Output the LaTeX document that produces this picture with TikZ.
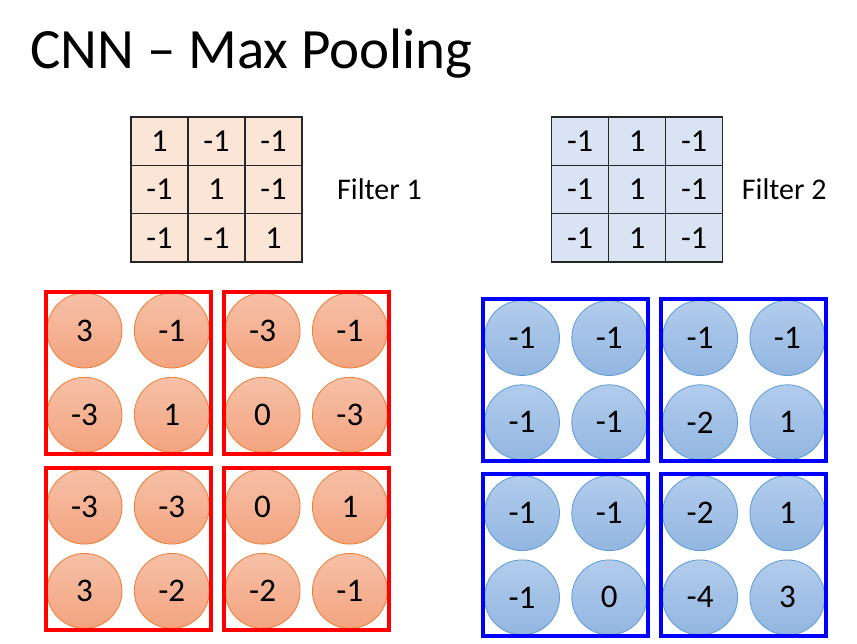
\documentclass[tikz,border=0pt]{standalone}
\usepackage{fontspec}
\setmainfont{Carlito}
\usetikzlibrary{positioning, fit}
\definecolor{filtA}{HTML}{FBE5D6}
\definecolor{filtB}{HTML}{DAE3F3}
\definecolor{poolRed}{RGB}{255,0,0}
\definecolor{poolBlue}{RGB}{0,0,255}
\definecolor{dotRedTop}{RGB}{246,192,167}
\definecolor{dotRedBot}{RGB}{243,164,128}
\definecolor{dotRedLine}{HTML}{ED7D31}
\definecolor{dotBlueTop}{RGB}{178,204,236}
\definecolor{dotBlueBot}{RGB}{146,182,225}
\definecolor{dotBlueLine}{HTML}{5B9BD5}
\begin{document}
\begin{tikzpicture}[
      x=1pt, y=-1pt,
      node distance=8.5pt and 11.5pt,
      cellA/.style={rectangle, draw=black!85, line width=1.3pt, fill=filtA, minimum width=57pt, minimum height=48.3pt, inner sep=0pt, outer sep=0pt, font=\fontsize{32}{34}\selectfont},
      cellB/.style={cellA, fill=filtB},
      lbl/.style={inner sep=0pt, font=\fontsize{30}{32}\selectfont},
      rdot/.style={circle, draw=dotRedLine, line width=0.8pt, top color=dotRedTop, bottom color=dotRedBot, minimum size=75pt, inner sep=0pt, font=\fontsize{33}{35}\selectfont},
      bdot/.style={rdot, draw=dotBlueLine, top color=dotBlueTop, bottom color=dotBlueBot},
      rbox/.style={rectangle, draw=poolRed, line width=4pt, inner sep=1pt},
      bbox/.style={rbox, draw=poolBlue}
    ]
      \useasboundingbox (0,0) rectangle (857,644);
      \node[anchor=base west, inner sep=0pt, font=\fontsize{57}{60}\selectfont] (title) at (30,69) {CNN – Max Pooling};

      % 卷积核
      \node[cellA] (fa11) at (159.5,141.2) {1};
      \node[cellA, right=0pt of fa11] (fa12) {-1};
      \node[cellA, right=0pt of fa12] (fa13) {-1};
      \node[cellA, below=0pt of fa11] (fa21) {-1};
      \node[cellA, right=0pt of fa21] (fa22) {1};
      \node[cellA, right=0pt of fa22] (fa23) {-1};
      \node[cellA, below=0pt of fa21] (fa31) {-1};
      \node[cellA, right=0pt of fa31] (fa32) {-1};
      \node[cellA, right=0pt of fa32] (fa33) {1};
      \node[lbl, right=35pt of fa23] (faname) {Filter 1};

      \node[cellB] (fb11) at (580.2,141.2) {-1};
      \node[cellB, right=0pt of fb11] (fb12) {1};
      \node[cellB, right=0pt of fb12] (fb13) {-1};
      \node[cellB, below=0pt of fb11] (fb21) {-1};
      \node[cellB, right=0pt of fb21] (fb22) {1};
      \node[cellB, right=0pt of fb22] (fb23) {-1};
      \node[cellB, below=0pt of fb21] (fb31) {-1};
      \node[cellB, right=0pt of fb31] (fb32) {1};
      \node[cellB, right=0pt of fb32] (fb33) {-1};
      \node[lbl, right=19pt of fb23] (fbname) {Filter 2};

      % 特征图 1
      \node[rdot] (r11) at (84.5,330.5) {3};
      \node[rdot, right=of r11] (r12) {-1};
      \node[rdot, right=15pt of r12] (r13) {-3};
      \node[rdot, right=of r13] (r14) {-1};
      \node[rdot, below=of r11] (r21) {-3};
      \node[rdot, right=of r21] (r22) {1};
      \node[rdot, right=15pt of r22] (r23) {0};
      \node[rdot, right=of r23] (r24) {-3};
      \node[rdot, below=16pt of r21] (r31) {-3};
      \node[rdot, right=of r31] (r32) {-3};
      \node[rdot, right=15pt of r32] (r33) {0};
      \node[rdot, right=of r33] (r34) {1};
      \node[rdot, below=of r31] (r41) {3};
      \node[rdot, right=of r41] (r42) {-2};
      \node[rdot, right=15pt of r42] (r43) {-2};
      \node[rdot, right=of r43] (r44) {-1};

      % 特征图 2
      \node[bdot] (b11) at (522,338) {-1};
      \node[bdot, right=of b11] (b12) {-1};
      \node[bdot, right=15pt of b12] (b13) {-1};
      \node[bdot, right=of b13] (b14) {-1};
      \node[bdot, below=of b11] (b21) {-1};
      \node[bdot, right=of b21] (b22) {-1};
      \node[bdot, right=15pt of b22] (b23) {-2};
      \node[bdot, right=of b23] (b24) {1};
      \node[bdot, below=15pt of b21] (b31) {-1};
      \node[bdot, right=of b31] (b32) {-1};
      \node[bdot, right=15pt of b32] (b33) {-2};
      \node[bdot, right=of b33] (b34) {1};
      \node[bdot, below=of b31] (b41) {-1};
      \node[bdot, right=of b41] (b42) {0};
      \node[bdot, right=15pt of b42] (b43) {-4};
      \node[bdot, right=of b43] (b44) {3};

      % 池化窗口
      \node[rbox, fit=(r11)(r22)] (rq1) {};
      \node[rbox, fit=(r13)(r24)] (rq2) {};
      \node[rbox, fit=(r31)(r42)] (rq3) {};
      \node[rbox, fit=(r33)(r44)] (rq4) {};
      \node[bbox, fit=(b11)(b22)] (bq1) {};
      \node[bbox, fit=(b13)(b24)] (bq2) {};
      \node[bbox, fit=(b31)(b42)] (bq3) {};
      \node[bbox, fit=(b33)(b44)] (bq4) {};
    \end{tikzpicture}
\end{document}
